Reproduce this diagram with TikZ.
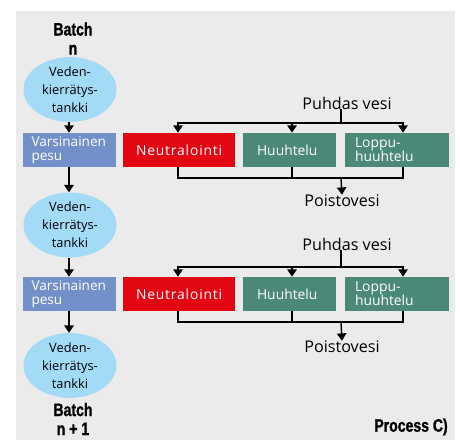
\documentclass[tikz,border=0pt]{standalone}
\usepackage{fontspec}
\usepackage{graphicx}
\usetikzlibrary{arrows.meta,shapes.geometric}
\setmainfont{Open Sans}
\newfontfamily\spacedfont{Open Sans}[LetterSpace=6]
\newfontfamily\condfont{Liberation Sans}[FakeStretch=0.78, FakeBold=1.2]
\definecolor{bggray}{HTML}{EBEBEB}
\definecolor{tankblue}{HTML}{A3DAF6}
\definecolor{washblue}{HTML}{7390C8}
\definecolor{neutred}{HTML}{E30613}
\definecolor{rinsegreen}{HTML}{4A8877}
\tikzset{
  tank/.style={ellipse, fill=tankblue, minimum width=69.75pt, minimum height=42.75pt,
    inner sep=0pt, align=center, font=\fontsize{9.6}{13.5}\selectfont},
  washbox/.style={rectangle, fill=washblue, text=white, minimum height=25.5pt,
    inner xsep=6.75pt, inner ysep=0pt, text width=56.25pt, align=left,
    font=\fontsize{10.2}{10.5}\selectfont},
  procbox/.style={rectangle, text=white, minimum height=25.5pt, inner ysep=0pt,
    align=left, font=\fontsize{10.4}{10.5}\selectfont},
  neutbox/.style={procbox, fill=neutred, inner xsep=9.75pt, text width=64.5pt,
    font=\spacedfont\fontsize{10.4}{10.5}\selectfont},
  flowlabel/.style={inner sep=0pt, font=\fontsize{12.1}{15}\selectfont},
  batchlabel/.style={inner sep=0pt, align=center, font=\condfont\bfseries\fontsize{13.5}{14.25}\selectfont},
  conn/.style={line width=1.1pt, black},
  arr/.style={conn, -{Triangle[width=7pt,length=5.5pt]}}
}
\begin{document}
\begin{tikzpicture}[x=0.75pt,y=-0.75pt]
\useasboundingbox (0,0) rectangle (460,441);
\fill[bggray] (16,11) rectangle (455,440);

% left column
\node[batchlabel] (bt1) at (73,38.5) {Batch\\n};
\node[tank] (e1) at (70,89.5) {Veden-\\kierrätys-\\tankki};
\node[washbox] (v1) at (69,150) {Varsinainen\\pesu};
\node[tank] (e2) at (70,225) {Veden-\\kierrätys-\\tankki};
\node[washbox] (v2) at (69,294) {Varsinainen\\pesu};
\node[tank] (e3) at (70,365.5) {Veden-\\kierrätys-\\tankki};
\node[batchlabel] (bt2) at (73,419) {Batch\\n + 1};
\node[batchlabel, anchor=east] (proc) at (448,427) {Process C)};

\draw[arr] ([xshift=-0.75pt]e1.south) -- (v1.north);
\draw[arr] (v1.south) -- ([xshift=-0.75pt]e2.north);
\draw[arr] ([xshift=-0.75pt]e2.south) -- (v2.north);
\draw[arr] (v2.south) -- ([xshift=-0.75pt]e3.north);

% row 1
\node[flowlabel] (pv1) at (347,103) {Puhdas vesi};
\node[neutbox] (n1) at (179,150) {Neutralointi};
\node[procbox, fill=rinsegreen, inner xsep=10.5pt, text width=48.75pt] (hu1) at (289.5,150) {Huuhtelu};
\node[procbox, fill=rinsegreen, inner xsep=7.5pt, text width=63pt] (l1) at (397,150) {Loppu-\\huuhtelu};
\node[flowlabel] (po1) at (342,201) {Poistovesi};
\coordinate (h1) at (341,123);
\coordinate (c1) at (341,178);

\draw[conn] (pv1.south -| h1) -- (h1);
\draw[arr] (h1) -| ([xshift=-0.75pt]n1.north);
\draw[arr] (h1) -| ([xshift=4.5pt]l1.north);
\draw[arr] ([xshift=1.9pt]hu1.north |- h1) -- ([xshift=1.9pt]hu1.north);
\draw[conn] ([xshift=-0.75pt]n1.south) |- (c1) -| ([xshift=4.5pt]l1.south);
\draw[conn] ([xshift=1.9pt]hu1.south) -- ([xshift=1.9pt]hu1.south |- c1);
\draw[arr] (c1) -- (po1.north);

% row 2
\node[flowlabel] (pv2) at (347,244) {Puhdas vesi};
\node[neutbox] (n2) at (179,294) {Neutralointi};
\node[procbox, fill=rinsegreen, inner xsep=10.5pt, text width=48.75pt] (hu2) at (289.5,294) {Huuhtelu};
\node[procbox, fill=rinsegreen, inner xsep=7.5pt, text width=63pt] (l2) at (397,294) {Loppu-\\huuhtelu};
\node[flowlabel] (po2) at (342,347) {Poistovesi};
\coordinate (h2) at (341,267);
\coordinate (c2) at (341,322);

\draw[conn] (pv2.south -| h2) -- (h2);
\draw[arr] (h2) -| ([xshift=-0.75pt]n2.north);
\draw[arr] (h2) -| ([xshift=4.5pt]l2.north);
\draw[arr] ([xshift=1.9pt]hu2.north |- h2) -- ([xshift=1.9pt]hu2.north);
\draw[conn] ([xshift=-0.75pt]n2.south) |- (c2) -| ([xshift=4.5pt]l2.south);
\draw[conn] ([xshift=1.9pt]hu2.south) -- ([xshift=1.9pt]hu2.south |- c2);
\draw[arr] (c2) -- (po2.north);
\end{tikzpicture}
\end{document}
